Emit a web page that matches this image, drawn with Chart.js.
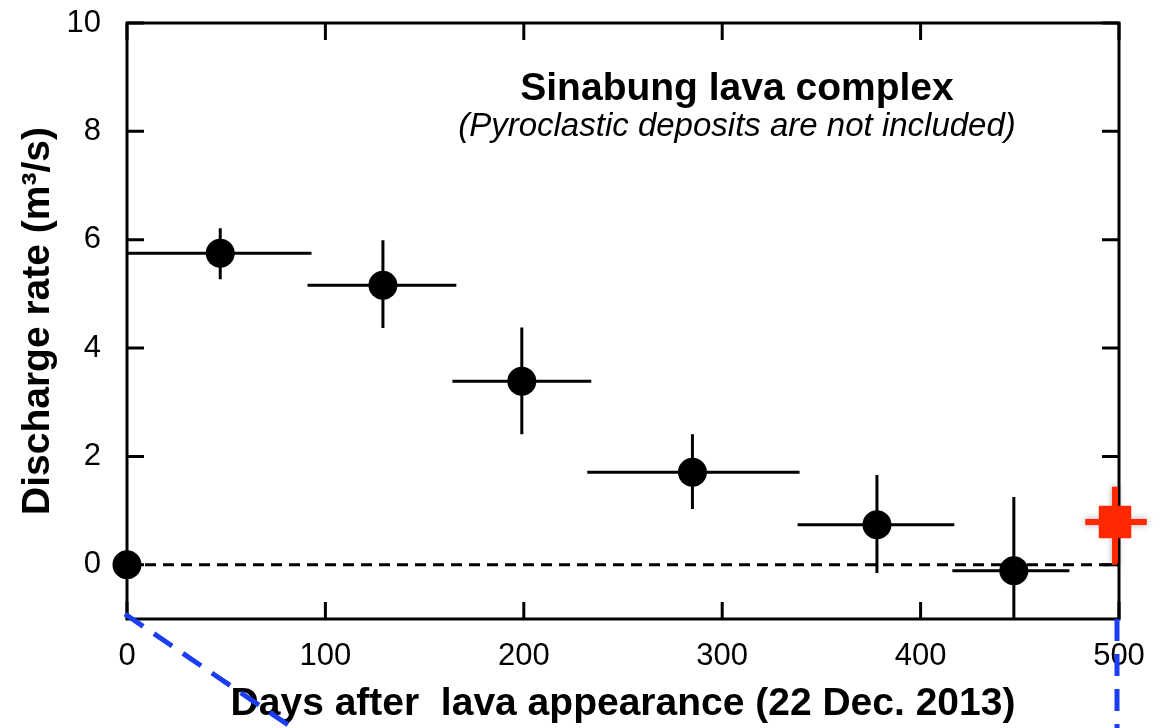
<!DOCTYPE html>
<html>
<head>
<meta charset="utf-8">
<script src="https://cdn.jsdelivr.net/npm/chart.js@4.4.1/dist/chart.umd.min.js"></script>
<style>
  html, body { margin: 0; padding: 0; background: #fff; }
</style>
</head>
<body>
<canvas id="chart" width="1165" height="728"></canvas>
<script>
// days after lava appearance and discharge rate (m3/s), with error bar ends
const days = [0, 47, 129, 199, 285, 378, 447];
const rates = [0, 5.75, 5.16, 3.39, 1.71, 0.74, -0.11];
const dayFrom = [null, 0, 91, 164, 232, 338, 416];
const dayTo = [null, 93, 166, 234, 339, 417, 475];
const rateLow = [null, 5.27, 4.37, 2.41, 1.03, -0.15, -1.2];
const rateHigh = [null, 6.21, 5.99, 4.38, 2.41, 1.66, 1.25];

// latest estimate (red marker)
const lastDay = [498];
const lastRate = [0.79];
const lastDayFrom = [483];
const lastDayTo = [514];
const lastRateLow = [0];
const lastRateHigh = [1.44];

const xTicks = [0, 100, 200, 300, 400, 500];
const yTicks = [0, 2, 4, 6, 8, 10];

const family = '"Liberation Sans", Arial, Helvetica, sans-serif';
const red = 'rgb(255, 40, 0)';

// frame, inside ticks and error bars
const frameAndBars = {
    id: 'frameAndBars',
    beforeDatasetsDraw(chart) {
        const {ctx, chartArea: a, scales: {x, y}} = chart;
        const tick = 17;

        ctx.save();
        ctx.strokeStyle = '#000';
        ctx.lineWidth = 3;
        ctx.strokeRect(a.left, a.top, a.right - a.left, a.bottom - a.top);

        ctx.beginPath();
        xTicks.forEach(v => {
            const px = x.getPixelForValue(v);
            ctx.moveTo(px, a.bottom);
            ctx.lineTo(px, a.bottom - tick);
            ctx.moveTo(px, a.top);
            ctx.lineTo(px, a.top + tick);
        });
        yTicks.forEach(v => {
            const py = y.getPixelForValue(v);
            ctx.moveTo(a.left, py);
            ctx.lineTo(a.left + tick, py);
            ctx.moveTo(a.right, py);
            ctx.lineTo(a.right - tick, py);
        });
        ctx.stroke();

        // black error bars, clipped to the plot
        ctx.save();
        ctx.beginPath();
        ctx.rect(a.left, a.top, a.right - a.left, a.bottom - a.top);
        ctx.clip();
        ctx.beginPath();
        days.forEach((d, i) => {
            if (dayFrom[i] === null) return;
            const py = y.getPixelForValue(rates[i]);
            const px = x.getPixelForValue(d);
            ctx.moveTo(x.getPixelForValue(dayFrom[i]), py);
            ctx.lineTo(x.getPixelForValue(dayTo[i]), py);
            ctx.moveTo(px, y.getPixelForValue(rateLow[i]));
            ctx.lineTo(px, y.getPixelForValue(rateHigh[i]));
        });
        ctx.stroke();
        ctx.restore();

        // red error bars
        ctx.strokeStyle = red;
        ctx.lineWidth = 6;
        ctx.shadowColor = 'rgba(0, 0, 0, 0.35)';
        ctx.shadowBlur = 6;
        ctx.beginPath();
        lastDay.forEach((d, i) => {
            const py = y.getPixelForValue(lastRate[i]);
            const px = x.getPixelForValue(d);
            ctx.moveTo(x.getPixelForValue(lastDayFrom[i]), py);
            ctx.lineTo(x.getPixelForValue(lastDayTo[i]), py);
            ctx.moveTo(px, y.getPixelForValue(lastRateLow[i]));
            ctx.lineTo(px, y.getPixelForValue(lastRateHigh[i]));
        });
        ctx.stroke();
        ctx.restore();
    },
    afterDraw(chart) {
        const {ctx, chartArea: a, height} = chart;

        ctx.save();
        ctx.fillStyle = '#000';
        ctx.textAlign = 'center';
        ctx.textBaseline = 'alphabetic';
        const cx = a.left + 610;
        ctx.font = 'bold 39px ' + family;
        ctx.fillText('Sinabung lava complex', cx, a.top + 77);
        ctx.font = 'italic 33px ' + family;
        ctx.fillText('(Pyroclastic deposits are not included)', cx, a.top + 113);

        // blue zoom guide lines leaving the frame
        ctx.strokeStyle = '#1b3ef2';
        ctx.lineWidth = 5;
        ctx.setLineDash([22, 13]);
        ctx.beginPath();
        ctx.moveTo(a.left - 2, a.bottom - 5);
        ctx.lineTo(a.left - 2 + (height - a.bottom + 5) / 0.68, height);
        ctx.moveTo(a.right - 2, a.bottom);
        ctx.lineTo(a.right - 2, height);
        ctx.stroke();
        ctx.restore();
    }
};

new Chart(document.getElementById('chart'), {
    type: 'scatter',
    data: {
        datasets: [
            {
                type: 'line',
                data: [{x: 0, y: 0}, {x: 500, y: 0}],
                borderColor: '#000',
                borderWidth: 3,
                borderDash: [11, 7],
                pointRadius: 0,
            },
            {
                data: days.map((d, i) => ({x: d, y: rates[i]})),
                backgroundColor: '#000',
                borderWidth: 0,
                pointRadius: 14.5,
                clip: false,
            },
            {
                data: lastDay.map((d, i) => ({x: d, y: lastRate[i]})),
                backgroundColor: red,
                borderWidth: 0,
                pointStyle: 'rect',
                pointRadius: 23,
                clip: false,
            },
        ],
    },
    options: {
        responsive: false,
        animation: false,
        events: [],
        layout: {
            padding: {left: 0, top: 22, right: 46, bottom: 0},
        },
        scales: {
            x: {
                type: 'linear',
                min: 0,
                max: 500,
                afterBuildTicks: (scale) => { scale.ticks = xTicks.map(v => ({value: v})); },
                afterFit: (scale) => {
                    scale.height = 109;
                    scale.paddingLeft = 0;
                    scale.paddingRight = 0;
                },
                grid: {display: false, drawTicks: false},
                border: {display: false},
                ticks: {
                    color: '#000',
                    padding: 19,
                    maxRotation: 0,
                    font: {family: family, size: 31},
                },
                title: {
                    display: true,
                    text: 'Days after  lava appearance (22 Dec. 2013)',
                    color: '#000',
                    padding: {top: 0, bottom: 0},
                    font: {family: family, size: 39, weight: 'bold'},
                },
            },
            y: {
                min: -1,
                max: 10,
                afterBuildTicks: (scale) => { scale.ticks = yTicks.map(v => ({value: v})); },
                afterFit: (scale) => {
                    scale.width = 127;
                    scale.paddingTop = 0;
                    scale.paddingBottom = 0;
                },
                grid: {display: false, drawTicks: false},
                border: {display: false},
                ticks: {
                    color: '#000',
                    padding: 26,
                    font: {family: family, size: 31},
                },
                title: {
                    display: true,
                    text: 'Discharge rate (m³/s)',
                    color: '#000',
                    padding: {top: 15, bottom: 0},
                    font: {family: family, size: 39, weight: 'bold'},
                },
            },
        },
        plugins: {
            legend: {display: false},
            tooltip: {enabled: false},
        },
    },
    plugins: [frameAndBars],
});
</script>
</body>
</html>
